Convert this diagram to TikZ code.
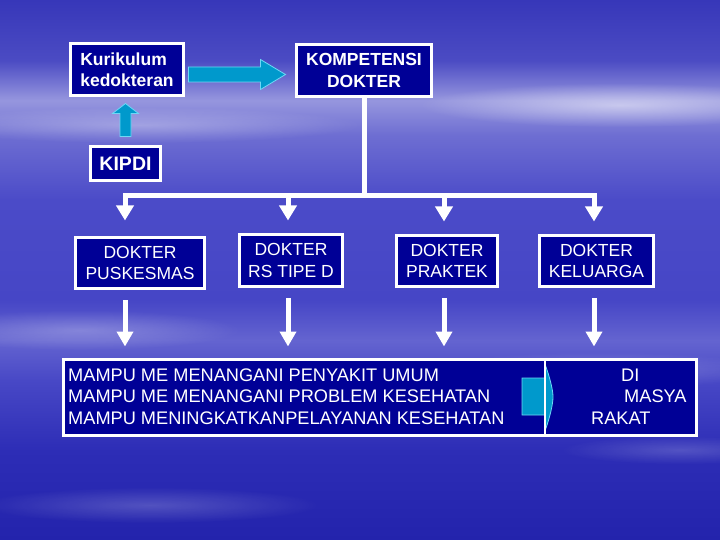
\documentclass[tikz,border=0pt]{standalone}
\usepackage{fontspec}
\setmainfont{Liberation Sans}
\usetikzlibrary{arrows.meta,calc,fadings}
\definecolor{navy}{RGB}{0,0,150}
\definecolor{cyanfill}{RGB}{0,153,204}
\definecolor{cyanline}{RGB}{110,215,245}
\pgfdeclareverticalshading{bgshade}{100bp}{%
 color(0bp)=(rgb,255:red,35;green,35;blue,172);
 color(25bp)=(rgb,255:red,35;green,35;blue,172);
 color(33.3bp)=(rgb,255:red,45;green,45;blue,182);
 color(39.8bp)=(rgb,255:red,72;green,72;blue,198);
 color(43.5bp)=(rgb,255:red,100;green,100;blue,208);
 color(47.2bp)=(rgb,255:red,70;green,70;blue,198);
 color(56.5bp)=(rgb,255:red,75;green,75;blue,200);
 color(62.5bp)=(rgb,255:red,110;green,110;blue,210);
 color(65.7bp)=(rgb,255:red,150;green,150;blue,222);
 color(69.4bp)=(rgb,255:red,75;green,75;blue,195);
 color(75bp)=(rgb,255:red,55;green,55;blue,185);
 color(100bp)=(rgb,255:red,55;green,55;blue,185)}
\tikzfading[name=fuzzy, inner color=transparent!0, outer color=transparent!100]
\begin{document}
\begin{tikzpicture}[x=1pt,y=-1pt,
  box/.style={draw=white, line width=3pt, fill=navy, text=white, inner sep=0pt,
    align=center, font=\fontsize{17.5}{21.5}\selectfont},
  boldbox/.style={box, font=\fontsize{17.5}{21.5}\selectfont\bfseries},
  plain/.style={text=white, inner sep=0pt, align=left, font=\fontsize{18.2}{21.5}\selectfont},
  conn/.style={draw=white, line width=5pt, line join=miter,
    -{Triangle[width=17pt,length=15pt]}},
  cyanshape/.style={fill=cyanfill, draw=cyanline, line width=0.8pt, line join=miter},
  streak/.style={fill=white, path fading=fuzzy}]
\useasboundingbox (0,0) rectangle (720,540);
\fill[shading=bgshade] (0,0) rectangle (720,540);
% light streaks of the background
\fill[streak, opacity=0.5] (620,105) ellipse (200 and 22);
\fill[streak, opacity=0.3] (140,125) ellipse (220 and 18);
\fill[streak, opacity=0.25] (80,330) ellipse (160 and 20);
\fill[streak, opacity=0.2] (600,370) ellipse (180 and 18);
\fill[streak, opacity=0.2] (150,505) ellipse (170 and 18);
\fill[streak, opacity=0.18] (680,450) ellipse (120 and 14);

% nodes
\node[boldbox, align=left, minimum width=113, minimum height=52] (kur) at (127,69.5)
  {Kurikulum\\kedokteran};
\node[boldbox, minimum width=135, minimum height=52] (komp) at (364,70.5)
  {KOMPETENSI\\DOKTER};
\node[box, font=\fontsize{19.5}{22}\selectfont\bfseries, minimum width=70, minimum height=34]
  (kipdi) at (125.5,163.5) {KIPDI};
\node[box, minimum width=129, minimum height=51] (pusk) at (140,263) {DOKTER\\PUSKESMAS};
\node[box, minimum width=103, minimum height=52] (rs) at (291,260.5) {DOKTER\\RS TIPE D};
\node[box, minimum width=101, minimum height=51] (prak) at (447,261) {DOKTER\\PRAKTEK};
\node[box, minimum width=114, minimum height=51] (kel) at (596.5,261) {DOKTER\\KELUARGA};
\node[box, minimum width=633, minimum height=76] (big) at (380,397.5) {};

% cyan arrow Kurikulum -> KOMPETENSI
\coordinate (a1) at ($(kur.east)+(3.5,5)$);
\coordinate (a2) at ($(a1 -| komp.west)+(-9.5,0)$);
\draw[cyanshape] ($(a1)+(0,-7.5)$) -- ($(a2)+(-25,-7.5)$) -- ($(a2)+(-25,-15)$) -- (a2)
  -- ($(a2)+(-25,15)$) -- ($(a2)+(-25,7.5)$) -- ($(a1)+(0,7.5)$) -- cycle;
% cyan arrow KIPDI -> Kurikulum
\coordinate (u1) at ($(kipdi.north)+(0,-8.5)$);
\coordinate (u2) at ($(u1 |- kur.south)+(0,6.5)$);
\draw[cyanshape] ($(u1)+(-5.5,0)$) -- ($(u2)+(-5.5,10)$) -- ($(u2)+(-13,10)$) -- (u2)
  -- ($(u2)+(13,10)$) -- ($(u2)+(5.5,10)$) -- ($(u1)+(5.5,0)$) -- cycle;

% tree from KOMPETENSI
\coordinate (bus) at (komp.south |- 0,196);
\draw[draw=white, line width=5pt] (komp.south) -- (bus);
\coordinate (t1) at ($(pusk.north)+(-15,0)$);
\coordinate (t2) at ($(rs.north)+(-3,0)$);
\coordinate (t3) at ($(prak.north)+(-3,0)$);
\coordinate (t4) at ($(kel.north)+(-2.5,0)$);
\foreach \t/\s in {t1/15.5,t2/12.5,t3/12.5,t4/12.5}
  \draw[conn, shorten >=\s pt] (bus) -| (\t);

% arrows down to the bottom box
\coordinate (b1) at ($(pusk.south)+(-15,0)$);
\coordinate (b2) at ($(rs.south)+(-3,0)$);
\coordinate (b3) at ($(prak.south)+(-3,0)$);
\coordinate (b4) at ($(kel.south)+(-2.5,0)$);
\foreach \b in {b1,b2,b3,b4}
  \draw[conn, -{Triangle[width=16pt,length=15pt]}, shorten <=10pt, shorten >=11.5pt]
    (\b) -- (\b |- big.north);

% bottom box contents
\node[plain, anchor=west] (left) at (68,396.5)
  {MAMPU ME MENANGANI PENYAKIT UMUM\\MAMPU ME MENANGANI PROBLEM KESEHATAN\\MAMPU MENINGKATKANPELAYANAN KESEHATAN};
\draw[cyanshape] (522,378) -- (545,378) -- (545,364)
  .. controls (550,378) and (553,390) .. (553,397)
  .. controls (553,404) and (550,417) .. (545,431) -- (545,415) -- (522,415) -- cycle;
\draw[white, line width=1.5pt] (545,359.5) -- (545,435.5);
\node[plain, anchor=west] (right) at (591,396.5)
  {\hspace*{30pt}DI\\\hspace*{33pt}MASYA\\RAKAT};
\end{tikzpicture}
\end{document}
